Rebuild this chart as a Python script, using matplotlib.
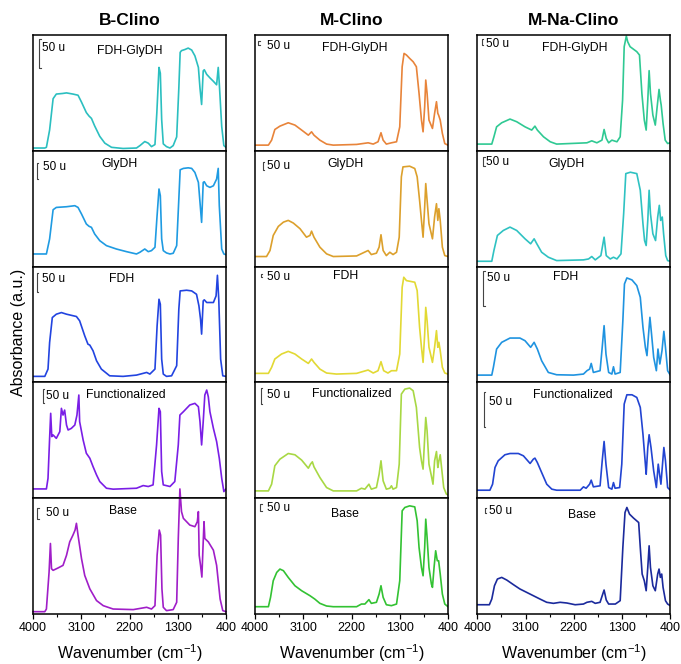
import matplotlib
matplotlib.use("Agg")
import matplotlib.pyplot as plt

plt.rcParams['font.family'] = ['Liberation Sans', 'DejaVu Sans']
plt.rcParams['mathtext.fontset'] = 'custom'
plt.rcParams['mathtext.rm'] = 'Liberation Sans'
plt.rcParams['mathtext.it'] = 'Liberation Sans:italic'

columns = ['B-Clino', 'M-Clino', 'M-Na-Clino']
samples = ['FDH-GlyDH', 'GlyDH', 'FDH', 'Functionalized', 'Base']
major_ticks = [4000, 3100, 2200, 1300, 400]
minor_ticks = [3550, 2650, 1750, 850]

# absorbance, in % of panel height
# ---- B-Clino ----
b_fdh_glydh_wn = [4000, 3780, 3750, 3690, 3625, 3565, 3450, 3375, 3255, 3160, 3095, 3005, 2955, 2910, 2850, 2755, 2660, 2535, 2320, 2070,
                  2005, 1915, 1850, 1790, 1725, 1690, 1650, 1625, 1600, 1570, 1510, 1445, 1385, 1320, 1280, 1255, 1230, 1165, 1105, 1040,
                  980, 915, 885, 855, 825, 805, 760, 700, 635, 575, 545, 525, 480, 440, 400]
b_fdh_glydh_ab = [2.4, 2.4, 3, 18, 45, 49, 49.5, 50, 49, 48, 42, 33, 30, 28, 21.5, 12.5, 6.6, 3, 2, 2.4,
                  4.5, 8, 6.6, 3.6, 5.4, 33, 72, 67, 27, 6, 3.6, 2.4, 4.5, 12, 54, 85, 86.5, 87.5, 88.7, 87,
                  82, 72, 54, 40, 69, 70, 66, 63, 60, 57, 72, 58, 21, 4.5, 3]

b_glydh_wn = [4000, 3780, 3750, 3690, 3625, 3565, 3375, 3220, 3160, 3095, 3005, 2955, 2910, 2850, 2755, 2630, 2445, 2255, 2070, 2005,
              1915, 1850, 1790, 1725, 1690, 1650, 1625, 1600, 1570, 1510, 1445, 1385, 1320, 1280, 1255, 1195, 1105, 1040, 980, 915,
              885, 855, 825, 805, 760, 700, 635, 575, 545, 525, 480, 440, 400]
b_glydh_ab = [10.9, 10.9, 10.9, 23.9, 49.1, 51.1, 51.7, 52.6, 51.1, 45.4, 36.8, 34.8, 33.9, 28.2, 22.4, 18.1, 15.2, 12.9, 10.9, 12.4,
              15.2, 12.9, 13.8, 16.7, 41.1, 67, 61.2, 23.9, 13.8, 11.8, 10.9, 11.5, 18.1, 58.3, 83.6, 84.8, 85.3, 84.8, 81.3, 72.7,
              55.5, 38.2, 72.7, 73.3, 69.8, 68.4, 69.8, 75.6, 84.8, 52.6, 15.2, 10.9, 10.3]

b_fdh_wn = [4000, 3780, 3720, 3690, 3640, 3565, 3470, 3375, 3190, 3130, 3035, 2975, 2940, 2880, 2815, 2725, 2570, 2320, 2070, 1880,
            1820, 1725, 1685, 1650, 1625, 1600, 1570, 1510, 1415, 1320, 1280, 1255, 1135, 1040, 950, 905, 875, 855, 825, 805,
            760, 635, 585, 560, 535, 500, 460, 400]
b_fdh_ab = [5.2, 5.2, 11.5, 34.5, 56, 58.9, 60.3, 58.9, 56.9, 53.2, 40.2, 33, 32.2, 27.3, 18.7, 11.5, 5.7, 5.2, 6.3, 8.6,
            7.2, 11.5, 48.9, 71.8, 67.5, 20.1, 7.2, 5.2, 5.7, 14.4, 63.2, 79, 79.6, 79, 76.1, 66.1, 54.6, 41.7, 70.4, 71.3,
            69, 69, 74.7, 92.5, 71.8, 20.1, 5.7, 5.2]

b_func_wn = [4000, 3750, 3720, 3690, 3670, 3650, 3625, 3565, 3500, 3470, 3440, 3410, 3375, 3345, 3285, 3220, 3180, 3145, 3130, 3065,
             3005, 2940, 2880, 2815, 2755, 2630, 2505, 2070, 1945, 1850, 1760, 1695, 1650, 1625, 1600, 1570, 1445, 1355, 1290, 1260,
             1195, 1075, 980, 915, 885, 855, 825, 795, 760, 730, 700, 635, 575, 525, 480, 440, 400]
b_func_ab = [8, 8, 17.2, 51.7, 73.3, 53.2, 54.6, 51.7, 57.5, 77.6, 71.8, 76.1, 63.2, 58.9, 60.3, 63.2, 71.8, 89.1, 66.1, 50.3,
             38.8, 34.5, 27.3, 20.1, 14.4, 8.6, 7.8, 8.6, 10.9, 10.1, 11.5, 46, 77.6, 74.7, 23, 11.5, 10.1, 14.4, 46, 71.8,
             74.7, 80.5, 81.9, 79, 66.1, 46, 66.1, 89.1, 93.4, 87.6, 74.7, 60.3, 48.9, 34.5, 17.2, 5.7, 8]

b_base_wn = [4000, 3780, 3750, 3700, 3675, 3655, 3625, 3535, 3440, 3375, 3315, 3255, 3215, 3190, 3160, 3095, 3035, 2940, 2815, 2690,
             2505, 2130, 1880, 1790, 1725, 1685, 1645, 1620, 1595, 1570, 1510, 1385, 1320, 1290, 1260, 1230, 1195, 1075, 980, 935,
             915, 900, 875, 850, 830, 810, 795, 730, 635, 575, 510, 460, 400]
b_base_ab = [2, 2, 4.3, 36.2, 60.9, 39.1, 37.7, 39.7, 42, 50.7, 62.3, 68.1, 72.5, 78.3, 68.1, 47.8, 33.3, 21.7, 11.6, 7.2,
             4.3, 3.8, 5.8, 4.3, 7.2, 50.7, 72.5, 68.1, 21.7, 5.8, 2.9, 3.8, 10.1, 65.2, 108, 88.4, 82.6, 76.8, 75.4, 79.7,
             88.4, 50.7, 42, 31.9, 56.5, 79.7, 65.2, 62.3, 55.1, 42, 13, 2.9, 2]

# ---- M-Clino ----
m_fdh_glydh_wn = [4000, 3750, 3690, 3630, 3535, 3380, 3255, 3130, 3005, 2945, 2900, 2790, 2665, 2540, 2105, 1890, 1795, 1705, 1650, 1610,
                  1550, 1455, 1360, 1300, 1255, 1220, 1175, 1115, 1050, 990, 940, 895, 865, 835, 815, 790, 755, 690, 650, 615,
                  590, 575, 545, 505, 460, 400]
m_fdh_glydh_ab = [4.9, 4.9, 9.2, 18.4, 21.3, 24.2, 22.2, 17.9, 13.5, 16.4, 13.5, 9.2, 5.8, 4.9, 5.5, 6.9, 5.8, 7.8, 15.6, 9.2,
                  5.8, 6.9, 7.8, 20.7, 72.6, 84.1, 82.7, 79.8, 76.9, 72.6, 49.6, 26.5, 16.4, 38, 61.1, 49.6, 26.5, 19.3, 32.3, 42.4,
                  32.3, 30.8, 26.5, 15, 6.2, 4.9]

m_glydh_wn = [4000, 3785, 3720, 3660, 3565, 3470, 3380, 3285, 3160, 3040, 2975, 2945, 2900, 2790, 2665, 2540, 2105, 1890, 1830, 1735,
              1685, 1650, 1610, 1550, 1485, 1425, 1360, 1310, 1270, 1240, 1115, 1020, 975, 930, 895, 865, 835, 815, 790, 755,
              690, 650, 615, 590, 570, 545, 505, 460, 400]
m_glydh_ab = [8.7, 8.7, 13.9, 26.9, 34.7, 38.4, 39.9, 37.6, 32.7, 25.4, 26.9, 30.6, 25.4, 16.8, 11, 8.7, 9.2, 13.9, 10.4, 11.6,
              16.8, 27.5, 13.9, 9.5, 12.4, 10.4, 12.4, 25.4, 77.5, 86.1, 86.7, 84.7, 77.5, 57.2, 39.9, 25.4, 51.4, 71.7, 57.2, 37,
              24, 42.8, 54.3, 39.9, 50, 39.9, 16.8, 9.5, 8.7]

m_fdh_wn = [4000, 3750, 3690, 3630, 3505, 3380, 3255, 3130, 3005, 2945, 2900, 2790, 2665, 2480, 2105, 1890, 1795, 1705, 1650, 1600,
            1520, 1455, 1360, 1300, 1255, 1225, 1175, 1020, 975, 930, 895, 865, 835, 815, 790, 755, 690, 650, 615, 590,
            570, 545, 505, 460, 400]
m_fdh_ab = [7.8, 7.8, 13, 20.2, 24.5, 26.8, 24.5, 20.2, 16.4, 20.2, 17.3, 11.5, 8.1, 7.2, 7.8, 10.7, 8.1, 10.1, 17.9, 10.1,
            8.1, 10.1, 10.1, 24.5, 82.1, 90.8, 87.9, 86.5, 79.3, 47.6, 30.3, 17.3, 41.8, 64.8, 53.3, 30.3, 17.3, 30.3, 44.7, 30.3,
            34.6, 27.4, 13, 8.1, 7.2]

m_func_wn = [4000, 3750, 3690, 3630, 3535, 3380, 3255, 3130, 3005, 2965, 2930, 2900, 2790, 2665, 2540, 2105, 2015, 1950, 1875, 1830,
             1735, 1685, 1650, 1610, 1550, 1485, 1455, 1425, 1360, 1310, 1270, 1205, 1115, 1050, 990, 930, 895, 865, 835, 815,
             790, 755, 710, 680, 650, 615, 590, 570, 545, 520, 480, 430, 400]
m_func_ab = [6.3, 6.3, 12.1, 28, 33.7, 38.6, 37.5, 32.9, 25.9, 29.4, 31.4, 27.1, 17.9, 9.2, 6.3, 6.3, 8.6, 7.8, 12.1, 7.8,
             9.2, 20.7, 32.3, 15, 7.8, 8.6, 10.7, 7.8, 9.2, 29.4, 89.9, 94.2, 95.1, 92.8, 78.4, 43.8, 32.3, 25.1, 52.4, 69.7,
             58.2, 29.4, 19.3, 12.1, 32.3, 40.3, 26.5, 32.3, 37.5, 26.5, 9.2, 3.5, 2.9]

m_base_wn = [4000, 3750, 3710, 3660, 3595, 3535, 3470, 3380, 3255, 3130, 2975, 2885, 2790, 2665, 2540, 2105, 2015, 1950, 1875, 1830,
             1735, 1685, 1650, 1610, 1550, 1455, 1360, 1300, 1255, 1205, 1115, 1020, 975, 940, 895, 865, 835, 815, 790, 755,
             710, 690, 660, 630, 600, 575, 545, 505, 460, 400]
m_base_ab = [6.3, 6.3, 14.4, 28.7, 35.9, 38.8, 37.4, 31.6, 24.4, 20.1, 15.8, 12.9, 9.2, 6.9, 6.3, 6.3, 8.6, 8.6, 12.4, 9.2,
             10.1, 17.2, 24.4, 14.4, 8, 7.2, 8.6, 28.7, 89.1, 92, 93.4, 92.5, 80.5, 57.5, 40.2, 33, 57.5, 81.9, 66.1, 40.2,
             25.9, 23, 40.2, 54.6, 46, 46, 34.5, 17.2, 8.6, 6.3]

# ---- M-Na-Clino ----
n_fdh_glydh_wn = [4000, 3730, 3690, 3640, 3545, 3390, 3265, 3110, 2985, 2925, 2880, 2765, 2640, 2520, 1955, 1865, 1770, 1675, 1635, 1595,
                  1550, 1490, 1395, 1335, 1290, 1260, 1220, 1195, 1150, 1025, 975, 930, 885, 850, 820, 795, 770, 725, 680, 645,
                  610, 585, 570, 535, 495, 450, 400]
n_fdh_glydh_ab = [5.8, 5.8, 12.1, 20.7, 24.2, 27.4, 25.1, 20.7, 17.9, 21.3, 17.9, 12.1, 7.8, 5.8, 6.9, 8.6, 6.9, 9.2, 18.4, 10.7,
                  6.9, 9.2, 7.8, 12.1, 43.8, 89.9, 99.1, 94.2, 89.9, 85.6, 82.7, 49.6, 26.5, 17.9, 43.8, 69.2, 49.6, 30.8, 22.2, 38,
                  53, 43.8, 39.5, 23.6, 9.2, 6.3, 6.9]

n_glydh_wn = [4000, 3730, 3690, 3625, 3515, 3390, 3265, 3110, 3005, 2940, 2890, 2800, 2675, 2520, 2020, 1925, 1865, 1800, 1695, 1635,
              1595, 1520, 1460, 1395, 1320, 1270, 1230, 1145, 1025, 960, 910, 880, 850, 820, 795, 770, 725, 675, 635, 605,
              580, 550, 525, 485, 450, 400]
n_glydh_ab = [4.6, 4.6, 13.9, 26.9, 31.2, 34.1, 31.2, 24, 19.7, 24, 19.7, 12.4, 8.1, 5.2, 5.8, 6.6, 8.7, 5.8, 9.5, 25.4,
              9.5, 6.6, 8.1, 6.6, 11, 45.7, 80.3, 81.5, 80.3, 65.9, 37, 22.5, 18.2, 39.9, 65.9, 45.7, 28.3, 22.5, 42.8, 52.9,
              39.9, 42.8, 28.3, 9.5, 5.2, 4.6]

n_fdh_wn = [4000, 3730, 3700, 3640, 3545, 3390, 3205, 3110, 3005, 2940, 2880, 2800, 2675, 2520, 2205, 2020, 1955, 1905, 1875, 1835,
            1710, 1670, 1635, 1600, 1550, 1490, 1460, 1430, 1335, 1285, 1255, 1210, 1115, 1025, 960, 910, 865, 835, 805, 780,
            750, 710, 660, 630, 595, 555, 520, 490, 450, 400]
n_fdh_ab = [6.3, 6.3, 13, 28.8, 34.6, 38.3, 38.3, 36, 30.3, 34.6, 28.8, 18.7, 8.6, 6.6, 6.3, 7.2, 10.1, 11.5, 16.4, 8.6,
            10.1, 30.3, 49, 24.5, 8.6, 7.2, 13.5, 7.2, 8.6, 53.3, 85, 90.2, 88.5, 83.6, 73.5, 47.6, 30.3, 23.1, 41.8, 56.2,
            41.8, 21.6, 10.1, 28.8, 15.9, 27.4, 44.1, 30.3, 10.1, 6.3]

n_func_wn = [4000, 3765, 3715, 3670, 3610, 3485, 3390, 3235, 3140, 3015, 2955, 2925, 2880, 2800, 2705, 2610, 2520, 2080, 2020, 1970,
             1905, 1875, 1835, 1710, 1670, 1635, 1600, 1550, 1490, 1460, 1430, 1345, 1305, 1260, 1210, 1115, 1025, 960, 910, 865,
             850, 820, 795, 760, 710, 660, 625, 600, 575, 545, 520, 490, 450, 400]
n_func_ab = [6.9, 6.9, 12.1, 26.5, 32.3, 37.5, 38.6, 38.6, 36.6, 30, 33.7, 34.6, 30.8, 22.2, 12.1, 7.8, 6.9, 6.9, 9.8, 8.6,
             12.1, 15.6, 9.8, 10.7, 32.3, 49, 29.4, 9.2, 7.8, 13.5, 8.6, 9.2, 29.4, 81.3, 89.3, 89.3, 87, 78.4, 55.3, 29.4,
             20.7, 43.8, 54.8, 43.8, 23.6, 9.2, 29.4, 20.7, 12.1, 29.4, 43.8, 32.3, 9.2, 6.9]

n_base_wn = [4000, 3775, 3730, 3680, 3625, 3545, 3450, 3325, 3205, 3080, 2955, 2830, 2705, 2580, 2455, 2330, 2175, 2020, 1955, 1865,
             1800, 1710, 1670, 1635, 1595, 1550, 1425, 1335, 1285, 1245, 1210, 1160, 1085, 990, 960, 925, 885, 850, 820, 795,
             770, 725, 680, 635, 610, 585, 560, 535, 490, 450, 400]
n_base_ab = [8, 8, 12.9, 24.4, 30.2, 31.6, 29.3, 25.3, 21.6, 18.7, 15.8, 12.9, 10.1, 9.2, 10.1, 9.5, 8, 8.6, 10.1, 10.9,
             9.2, 10.1, 15.8, 20.7, 12.1, 8.6, 8.6, 11.5, 57.5, 87.6, 92, 86.2, 82.8, 79, 57.5, 34.5, 28.7, 20.1, 40.2, 58.9,
             40.2, 24.4, 20.1, 34.5, 38.8, 31.6, 34.5, 23, 11.5, 8.6, 7.2]

spectra = [
    [(b_fdh_glydh_wn, b_fdh_glydh_ab), (b_glydh_wn, b_glydh_ab), (b_fdh_wn, b_fdh_ab), (b_func_wn, b_func_ab), (b_base_wn, b_base_ab)],
    [(m_fdh_glydh_wn, m_fdh_glydh_ab), (m_glydh_wn, m_glydh_ab), (m_fdh_wn, m_fdh_ab), (m_func_wn, m_func_ab), (m_base_wn, m_base_ab)],
    [(n_fdh_glydh_wn, n_fdh_glydh_ab), (n_glydh_wn, n_glydh_ab), (n_fdh_wn, n_fdh_ab), (n_func_wn, n_func_ab), (n_base_wn, n_base_ab)],
]

colors = [
    ['#2bbfc0', '#1f9be2', '#2244e0', '#7a1ee6', '#a01ec8'],
    ['#e8843a', '#dca02c', '#e2d934', '#a8d844', '#33c233'],
    ['#2fc993', '#2fc2c2', '#1f93e0', '#2244d2', '#1b2a9c'],
]

# scale bar x, top, bottom; "50 u" x, y; sample label x, y  (axes fraction)
marks = [
    [(0.033, 0.963, 0.718, 0.045, 0.885, 0.50, 0.864),
     (0.019, 0.892, 0.754, 0.050, 0.863, 0.45, 0.886),
     (0.019, 0.947, 0.783, 0.045, 0.893, 0.46, 0.890),
     (0.050, 0.940, 0.819, 0.067, 0.883, 0.48, 0.890),
     (0.022, 0.913, 0.818, 0.067, 0.870, 0.465, 0.892)],
    [(0.017, 0.950, 0.913, 0.064, 0.905, 0.518, 0.890),
     (0.040, 0.906, 0.834, 0.060, 0.869, 0.47, 0.886),
     (0.030, 0.936, 0.908, 0.060, 0.908, 0.47, 0.919),
     (0.030, 0.949, 0.813, 0.064, 0.891, 0.50, 0.900),
     (0.026, 0.947, 0.892, 0.064, 0.918, 0.466, 0.864)],
    [(0.024, 0.963, 0.914, 0.045, 0.920, 0.503, 0.890),
     (0.030, 0.949, 0.869, 0.045, 0.907, 0.46, 0.886),
     (0.030, 0.965, 0.660, 0.052, 0.899, 0.46, 0.911),
     (0.033, 0.920, 0.618, 0.062, 0.832, 0.497, 0.890),
     (0.038, 0.913, 0.870, 0.062, 0.890, 0.544, 0.855)],
]

fig = plt.figure(figsize=(6.81, 6.64), dpi=100)

lefts = [33 / 681, 255 / 681, 477.3 / 681]
width = 193 / 681
row_h = 115.8 / 664
bottom0 = 1 - 614 / 664

for c in range(3):
    for r in range(5):
        ax = fig.add_axes([lefts[c], bottom0 + (4 - r) * row_h, width, row_h])
        wn, ab = spectra[c][r]
        ax.plot(wn, ab, color=colors[c][r], lw=1.2, clip_on=(r != 4 or c != 0))
        ax.set_xlim(4000, 400)
        ax.set_ylim(0, 100)
        ax.set_yticks([])
        for s in ax.spines.values():
            s.set_linewidth(1.1)

        bx, btop, bbot, tx, ty, lx, ly = marks[c][r]
        cap = 0.008
        ax.plot([bx + cap, bx, bx, bx + cap], [btop, btop, bbot, bbot],
                transform=ax.transAxes, color='#444444', lw=0.8)
        ax.text(tx, ty, '50 u', transform=ax.transAxes, fontsize=8.5, ha='left', va='center')
        ax.text(lx, ly, samples[r], transform=ax.transAxes, fontsize=8.8, ha='center', va='center')

        if r == 4:
            ax.set_xticks(major_ticks)
            ax.set_xticks(minor_ticks, minor=True)
            ax.tick_params(axis='x', which='major', direction='out', length=3.5, width=0.9, labelsize=9, pad=2)
            ax.tick_params(axis='x', which='minor', direction='out', length=2, width=0.8)
            ax.set_xlabel('Wavenumber (cm$^{-1}$)', fontsize=11.5, labelpad=6)
        else:
            ax.set_xticks([])
        if r == 0:
            ax.set_title(columns[c], fontsize=12.5, fontweight='bold', pad=7)

fig.text(0.027, 0.5, 'Absorbance (a.u.)', rotation=90, fontsize=11.5, ha='center', va='center')

fig.savefig('out.png', dpi=100)
